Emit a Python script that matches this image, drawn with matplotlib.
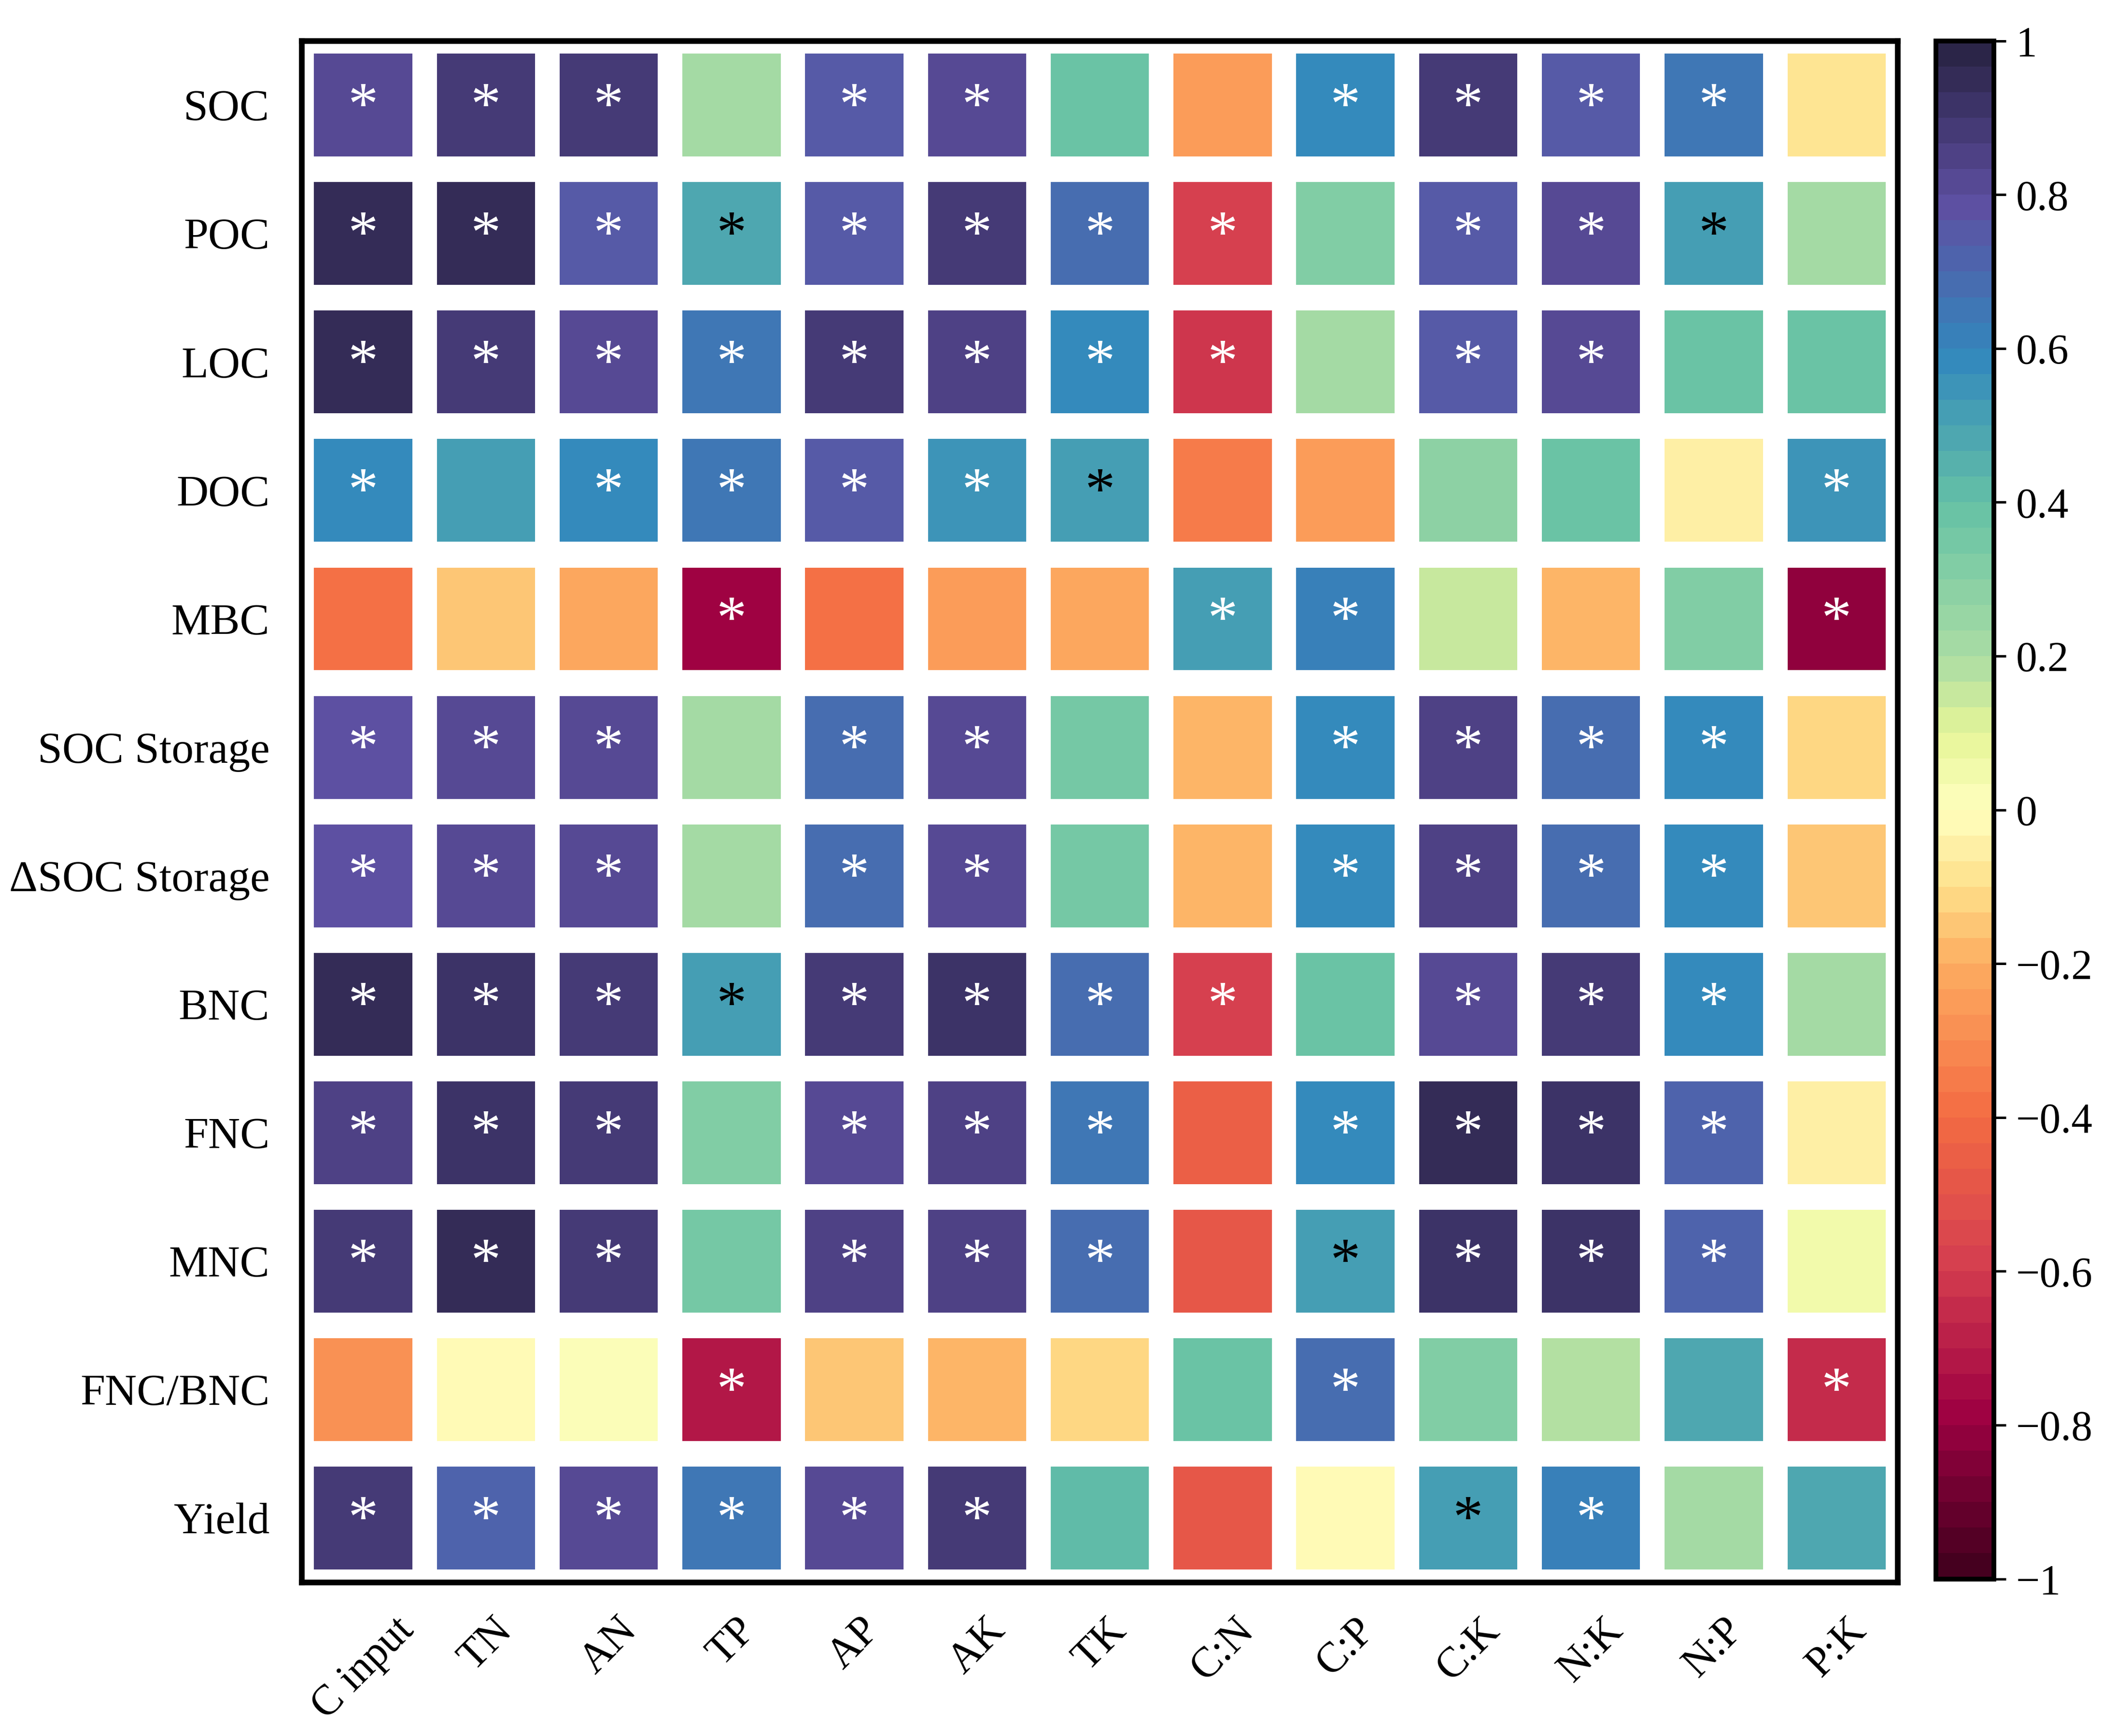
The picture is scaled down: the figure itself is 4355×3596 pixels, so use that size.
import numpy as np
import matplotlib
matplotlib.use("Agg")
import matplotlib.pyplot as plt
from matplotlib.colors import LinearSegmentedColormap, Normalize
from matplotlib.cm import ScalarMappable

plt.rcParams['font.family'] = ['Liberation Serif', 'DejaVu Serif']

# Row and column labels
rows = ['SOC', 'POC', 'LOC', 'DOC', 'MBC', 'SOC Storage', '\u0394SOC Storage',
        'BNC', 'FNC', 'MNC', 'FNC/BNC', 'Yield']
cols = ['C input', 'TN', 'AN', 'TP', 'AP', 'AK', 'TK', 'C:N', 'C:P', 'C:K',
        'N:K', 'N:P', 'P:K']

# Correlation coefficients (one list per row)
r_soc      = [0.80, 0.88, 0.88, 0.20, 0.75, 0.80, 0.37, -0.25, 0.58, 0.88, 0.76, 0.65, -0.10]
r_poc      = [0.94, 0.95, 0.76, 0.49, 0.76, 0.89, 0.67, -0.58, 0.33, 0.74, 0.80, 0.50, 0.21]
r_loc      = [0.96, 0.88, 0.81, 0.65, 0.89, 0.84, 0.58, -0.63, 0.21, 0.74, 0.82, 0.38, 0.38]
r_doc      = [0.57, 0.50, 0.58, 0.65, 0.75, 0.54, 0.50, -0.35, -0.24, 0.29, 0.37, -0.04, 0.55]
r_mbc      = [-0.38, -0.15, -0.21, -0.78, -0.40, -0.24, -0.23, 0.53, 0.60, 0.14, -0.20, 0.30, -0.80]
r_socs     = [0.77, 0.80, 0.81, 0.20, 0.67, 0.80, 0.35, -0.18, 0.57, 0.84, 0.67, 0.57, -0.13]
r_dsocs    = [0.77, 0.80, 0.81, 0.20, 0.67, 0.80, 0.35, -0.18, 0.57, 0.84, 0.67, 0.57, -0.14]
r_bnc      = [0.96, 0.92, 0.88, 0.50, 0.88, 0.92, 0.68, -0.60, 0.38, 0.80, 0.87, 0.57, 0.21]
r_fnc      = [0.84, 0.93, 0.88, 0.30, 0.83, 0.85, 0.65, -0.45, 0.58, 0.94, 0.90, 0.72, -0.05]
r_mnc      = [0.88, 0.96, 0.88, 0.36, 0.84, 0.85, 0.67, -0.47, 0.51, 0.90, 0.91, 0.70, 0.05]
r_fnc_bnc  = [-0.30, -0.02, 0.03, -0.72, -0.15, -0.19, -0.12, 0.37, 0.68, 0.33, 0.17, 0.48, -0.65]
r_yield    = [0.88, 0.72, 0.80, 0.65, 0.80, 0.89, 0.43, -0.50, -0.03, 0.50, 0.60, 0.22, 0.49]

# Significance marks: 0 = none, 1 = white star, 2 = black star
s_soc      = [1, 1, 1, 0, 1, 1, 0, 0, 1, 1, 1, 1, 0]
s_poc      = [1, 1, 1, 2, 1, 1, 1, 1, 0, 1, 1, 2, 0]
s_loc      = [1, 1, 1, 1, 1, 1, 1, 1, 0, 1, 1, 0, 0]
s_doc      = [1, 0, 1, 1, 1, 1, 2, 0, 0, 0, 0, 0, 1]
s_mbc      = [0, 0, 0, 1, 0, 0, 0, 1, 1, 0, 0, 0, 1]
s_socs     = [1, 1, 1, 0, 1, 1, 0, 0, 1, 1, 1, 1, 0]
s_dsocs    = [1, 1, 1, 0, 1, 1, 0, 0, 1, 1, 1, 1, 0]
s_bnc      = [1, 1, 1, 2, 1, 1, 1, 1, 0, 1, 1, 1, 0]
s_fnc      = [1, 1, 1, 0, 1, 1, 1, 0, 1, 1, 1, 1, 0]
s_mnc      = [1, 1, 1, 0, 1, 1, 1, 0, 2, 1, 1, 1, 0]
s_fnc_bnc  = [0, 0, 0, 1, 0, 0, 0, 0, 1, 0, 0, 0, 1]
s_yield    = [1, 1, 1, 1, 1, 1, 0, 0, 0, 2, 1, 0, 0]

r = np.array([r_soc, r_poc, r_loc, r_doc, r_mbc, r_socs, r_dsocs,
              r_bnc, r_fnc, r_mnc, r_fnc_bnc, r_yield])
sig = np.array([s_soc, s_poc, s_loc, s_doc, s_mbc, s_socs, s_dsocs,
                s_bnc, s_fnc, s_mnc, s_fnc_bnc, s_yield])

# Spectral-like palette with darker ends, in discrete steps
anchors = [(0.00, '#45001f'), (0.10, '#9e0142'), (0.20, '#d53e4f'),
           (0.30, '#f46d43'), (0.40, '#fdae61'), (0.45, '#fee08b'),
           (0.50, '#ffffbf'), (0.55, '#e6f598'), (0.60, '#abdda4'),
           (0.70, '#66c2a5'), (0.80, '#3288bd'), (0.90, '#5e4fa2'),
           (1.00, '#2b2548')]
cmap = LinearSegmentedColormap.from_list('spec_dark', anchors, N=60)
norm = Normalize(vmin=-1, vmax=1)

fig = plt.figure(figsize=(4355 / 300, 3596 / 300), dpi=300)
ax = fig.add_axes([0.1435, 0.0885, 0.759, 0.888])

nrow, ncol = r.shape
xs = np.arange(ncol)
cell = 0.8
for i in range(nrow):
    ax.bar(xs, cell, bottom=i - cell / 2, width=cell,
           color=cmap(norm(r[i])), linewidth=0)
    for j in range(ncol):
        if sig[i, j]:
            ax.text(j, i + 0.03, '*', ha='center', va='center', fontsize=30,
                    color='white' if sig[i, j] == 1 else 'black')

ax.set_xlim(-0.5, ncol - 0.5)
ax.set_ylim(nrow - 0.5, -0.5)
ax.set_xticks(xs)
ax.set_xticklabels(cols, rotation=45, ha='center', va='top', fontsize=21)
ax.set_yticks(np.arange(nrow))
ax.set_yticklabels(rows, fontsize=22)
ax.tick_params(axis='x', length=0, pad=14)
ax.tick_params(axis='y', length=0, pad=16)
for sp in ax.spines.values():
    sp.set_linewidth(2.8)

cax = fig.add_axes([0.9205, 0.0905, 0.0275, 0.886])
sm = ScalarMappable(norm=norm, cmap=cmap)
cb = fig.colorbar(sm, cax=cax, ticks=np.linspace(-1, 1, 11))
cb.ax.set_yticklabels(['\u22121', '\u22120.8', '\u22120.6', '\u22120.4', '\u22120.2',
                       '0', '0.2', '0.4', '0.6', '0.8', '1'])
cb.ax.tick_params(labelsize=21, length=6, width=1.2, pad=5)
cb.outline.set_linewidth(2.4)

fig.savefig('out.png', dpi=300)
